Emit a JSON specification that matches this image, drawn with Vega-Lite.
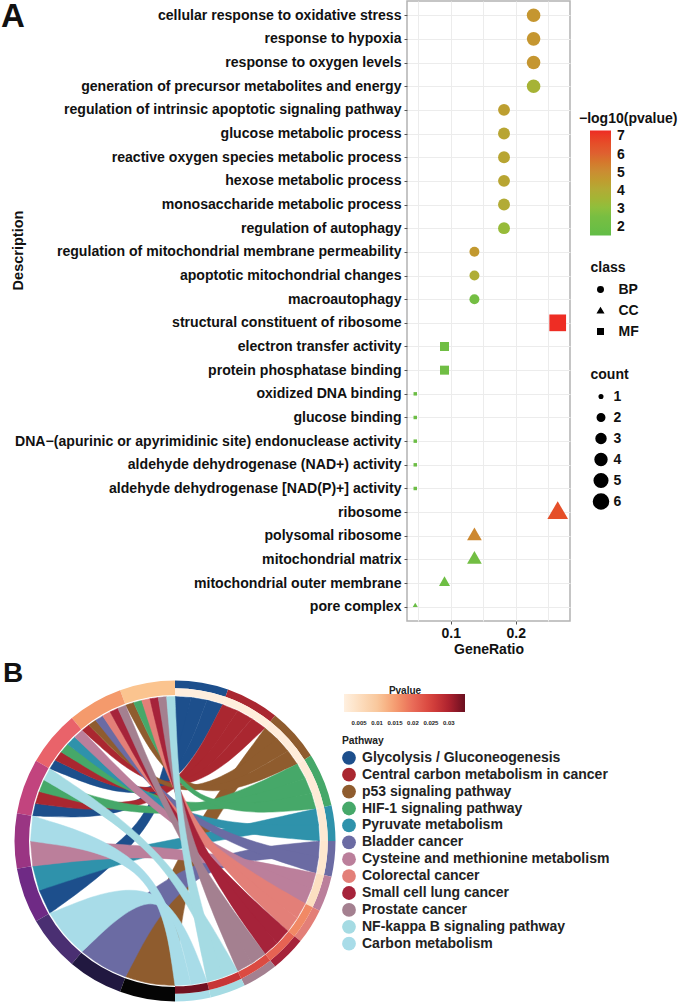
{"$schema":"https://vega.github.io/schema/vega-lite/v6.json","padding":0,"spacing":2,"align":"none","background":"white","config":{"font":"Liberation Sans","axis":{"labelFont":"Liberation Sans","titleFont":"Liberation Sans"},"legend":{"labelFont":"Liberation Sans","titleFont":"Liberation Sans"}},
"vconcat":[
{"width":163,"height":620,"view":{"stroke":"#b3b3b3","strokeWidth":1.5},
"layer":[
{"data":{"name":"rows"},"transform":[{"filter":"datum.class=='BP'"}],"mark":{"type":"point","filled":true,"opacity":1},"encoding":{"shape":{"field":"class","type":"nominal","scale":{"domain":["BP","CC","MF"],"range":["circle","triangle-up","square"]},"legend":{"orient":"none","legendX":183.5,"legendY":260,"title":"class","titleFontSize":14,"titleFontWeight":"bold","titleColor":"#111","titlePadding":8,"labelFontSize":14,"labelFontWeight":"bold","labelColor":"#111","symbolSize":30,"symbolFillColor":"#000","symbolStrokeColor":"#000","symbolOffset":3,"labelOffset":11,"clipHeight":13,"rowPadding":6}},"size":{"field":"count","type":"quantitative","scale":{"domain":[1,6],"range":[13,227]},"legend":{"orient":"none","legendX":183.5,"legendY":367,"title":"count","values":[1,2,3,4,5,6],"format":"d","titleFontSize":14,"titleFontWeight":"bold","titleColor":"#111","titlePadding":6,"labelFontSize":14,"labelFontWeight":"bold","labelColor":"#111","symbolType":"circle","symbolFillColor":"#000","symbolStrokeColor":"#000","symbolOffset":2,"labelOffset":4,"clipHeight":17,"rowPadding":4}},"color":{"field":"logp","type":"quantitative","scale":{"domain":[1.47,2.5,3,4,5,6,7.24],"range":["#62bd47","#78be42","#8fbf3c","#b2ab35","#cb8c32","#df6030","#ee2a24"]},"legend":{"orient":"none","legendX":172,"legendY":110.5,"title":"−log10(pvalue)","titleFontSize":14,"titleFontWeight":"bold","titleColor":"#111","titlePadding":5,"labelFontSize":14,"labelFontWeight":"bold","labelColor":"#111","labelOffset":6,"values":[2,3,4,5,6,7],"gradientLength":105,"gradientThickness":21,"gradientStrokeWidth":0,"tickCount":6,"encoding":{"title":{"dx":{"value":-11}},"labels":{"dy":{"value":1.5}}}}}}},
{"data":{"name":"rows"},"transform":[{"filter":"datum.class=='CC'"}],"mark":{"type":"point","filled":true,"opacity":1,"yOffset":-2},"encoding":{"shape":{"field":"class","type":"nominal","scale":{"domain":["BP","CC","MF"],"range":["circle","triangle-up","square"]}},"size":{"field":"count","type":"quantitative","scale":{"domain":[1,2,3,6],"range":[25,121,216,428]},"legend":null},"color":{"field":"logp","type":"quantitative","scale":{"domain":[1.47,2.5,3,4,5,6,7.24],"range":["#62bd47","#78be42","#8fbf3c","#b2ab35","#cb8c32","#df6030","#ee2a24"]}}}},
{"data":{"name":"rows"},"transform":[{"filter":"datum.class=='MF'"}],"mark":{"type":"point","filled":true,"opacity":1},"encoding":{"shape":{"field":"class","type":"nominal","scale":{"domain":["BP","CC","MF"],"range":["circle","triangle-up","square"]}},"size":{"field":"count","type":"quantitative","scale":{"domain":[1,2,6],"range":[12,81,279]},"legend":null},"color":{"field":"logp","type":"quantitative","scale":{"domain":[1.47,2.5,3,4,5,6,7.24],"range":["#62bd47","#78be42","#8fbf3c","#b2ab35","#cb8c32","#df6030","#ee2a24"]}}}},
{"data":{"values":[{"GeneRatio":-0.5918,"Description":"cellular response to oxidative stress","letter":"A"}]},"mark":{"type":"text","align":"left","baseline":"middle","dy":2,"fontSize":33,"fontWeight":"bold","color":"#111","clip":false},"encoding":{"text":{"field":"letter"}}}
],
"encoding":{"x":{"field":"GeneRatio","type":"quantitative","scale":{"domain":[0.0328,0.2835],"nice":false,"zero":false},"axis":{"title":"GeneRatio","values":[0.05,0.1,0.15,0.2,0.25],"format":".1f","labelExpr":"datum.value==0.1||datum.value==0.2?datum.label:''","labelFontSize":14,"labelFontWeight":"bold","labelColor":"#111","titleFontSize":14,"titleFontWeight":"bold","titleColor":"#111","titlePadding":2,"labelPadding":2,"domain":false,"tickColor":"#555","tickSize":3,"tickOpacity":{"condition":{"test":"datum.value==0.1||datum.value==0.2","value":1},"value":0},"grid":true,"gridColor":"#ececec","gridWidth":1}},"y":{"field":"Description","type":"nominal","scale":{"type":"point","padding":0.6,"domain":["cellular response to oxidative stress","response to hypoxia","response to oxygen levels","generation of precursor metabolites and energy","regulation of intrinsic apoptotic signaling pathway","glucose metabolic process","reactive oxygen species metabolic process","hexose metabolic process","monosaccharide metabolic process","regulation of autophagy","regulation of mitochondrial membrane permeability","apoptotic mitochondrial changes","macroautophagy","structural constituent of ribosome","electron transfer activity","protein phosphatase binding","oxidized DNA binding","glucose binding","DNA−(apurinic or apyrimidinic site) endonuclease activity","aldehyde dehydrogenase (NAD+) activity","aldehyde dehydrogenase [NAD(P)+] activity","ribosome","polysomal ribosome","mitochondrial matrix","mitochondrial outer membrane","pore complex"]},"axis":{"title":"Description","titleX":-382,"titleY":249,"titleFontSize":14.5,"titleFontWeight":"bold","titleColor":"#111","labelFontSize":14.1,"labelFontWeight":"bold","labelColor":"#111","labelLimit":500,"labelPadding":3,"domain":false,"tickColor":"#555","tickSize":3,"grid":true,"gridColor":"#ececec","gridWidth":1}}},
"resolve":{"scale":{"size":"independent"}}
},
{"width":271,"height":345,"view":{"stroke":null},
"layer":[
{"data":{"values":[
{"id":1,"p":"Glycolysis / Gluconeogenesis","x":[0,0,0,16.2,16.2,16.2,-13.6,-125.1,-125.1,-125.1,-135.8,-135.8,-135.8,-17,0,0,0],"y":[144.5,144.5,144.5,143.6,143.6,143.6,8.9,-72.3,-72.3,-72.3,-49.4,-49.4,-49.4,11.9,144.5,144.5,144.5]},
{"id":2,"p":"Glycolysis / Gluconeogenesis","x":[16.2,16.2,16.2,32.2,32.2,32.2,-13.8,-142.3,-142.3,-142.3,-139.6,-139.6,-139.6,-15.4,16.2,16.2,16.2],"y":[143.6,143.6,143.6,140.9,140.9,140.9,20.8,25.1,25.1,25.1,37.4,37.4,37.4,22.6,143.6,143.6,143.6]},
{"id":3,"p":"Glycolysis / Gluconeogenesis","x":[32.2,32.2,32.2,47.7,47.7,47.7,-9.7,-125.1,-125.1,-125.1,-119.8,-119.8,-119.8,-11,32.2,32.2,32.2],"y":[140.9,140.9,140.9,136.4,136.4,136.4,26.1,72.3,72.3,72.3,80.8,80.8,80.8,27.7,140.9,140.9,140.9]},
{"id":4,"p":"Central carbon metabolism in cancer","x":[47.7,47.7,47.7,62.7,62.7,62.7,-9.6,-139.6,-139.6,-139.6,-135.8,-135.8,-135.8,-11,47.7,47.7,47.7],"y":[136.4,136.4,136.4,130.2,130.2,130.2,21,37.4,37.4,37.4,49.4,49.4,49.4,23.2,136.4,136.4,136.4]},
{"id":5,"p":"Central carbon metabolism in cancer","x":[62.7,62.7,62.7,76.9,76.9,76.9,-5.4,-119.8,-119.8,-119.8,-113.9,-113.9,-113.9,-6.4,62.7,62.7,62.7],"y":[130.2,130.2,130.2,122.3,122.3,122.3,25.4,80.8,80.8,80.8,89,89,89,27.4,130.2,130.2,130.2]},
{"id":6,"p":"Central carbon metabolism in cancer","x":[76.9,76.9,76.9,90.1,90.1,90.1,-0.35,-92.9,-92.9,-92.9,-86.3,-86.3,-86.3,-1.2,76.9,76.9,76.9],"y":[122.3,122.3,122.3,113,113,113,28,110.7,110.7,110.7,115.9,115.9,115.9,29.8,122.3,122.3,122.3]},
{"id":7,"p":"p53 signaling pathway","x":[90.1,90.1,90.1,102.2,102.2,102.2,12.8,0,0,0,-25.3,-49.4,-49.4,-49.4,5.1,90.1,90.1,90.1],"y":[113,113,113,102.2,102.2,102.2,-5.3,-144.5,-144.5,-144.5,-143.4,-135.8,-135.8,-135.8,-2.9,113,113,113]},
{"id":8,"p":"p53 signaling pathway","x":[102.2,102.2,102.2,113,113,113,3.3,-86.3,-86.3,-86.3,-79.4,-79.4,-79.4,2.9,102.2,102.2,102.2],"y":[102.2,102.2,102.2,90.1,90.1,90.1,25.8,115.9,115.9,115.9,120.7,120.7,120.7,27.9,102.2,102.2,102.2]},
{"id":9,"p":"p53 signaling pathway","x":[113,113,113,122.3,122.3,122.3,9.1,-49.4,-49.4,-49.4,-41.4,-41.4,-41.4,9,113,113,113],"y":[90.1,90.1,90.1,76.9,76.9,76.9,26.6,135.8,135.8,135.8,138.4,138.4,138.4,28.6,90.1,90.1,90.1]},
{"id":10,"p":"HIF-1 signaling pathway","x":[122.3,122.3,122.3,130.2,130.2,130.2,-0.7,-135.8,-135.8,-135.8,-131,-131,-131,-1.1,122.3,122.3,122.3],"y":[76.9,76.9,76.9,62.7,62.7,62.7,14,49.4,49.4,49.4,61.1,61.1,61.1,17.3,76.9,76.9,76.9]},
{"id":11,"p":"HIF-1 signaling pathway","x":[130.2,130.2,130.2,136.4,136.4,136.4,2.8,-113.9,-113.9,-113.9,-107.4,-107.4,-107.4,2.9,130.2,130.2,130.2],"y":[62.7,62.7,62.7,47.7,47.7,47.7,17.1,89,89,89,96.7,96.7,96.7,19.9,62.7,62.7,62.7]},
{"id":12,"p":"HIF-1 signaling pathway","x":[136.4,136.4,136.4,140.9,140.9,140.9,12.4,-41.4,-41.4,-41.4,-33.3,-33.3,-33.3,12.9,136.4,136.4,136.4],"y":[47.7,47.7,47.7,32.2,32.2,32.2,21.3,138.4,138.4,138.4,140.6,140.6,140.6,23.5,47.7,47.7,47.7]},
{"id":13,"p":"Pyruvate metabolism","x":[140.9,140.9,140.9,143.6,143.6,143.6,1,-135.8,-135.8,-135.8,-142.3,-142.3,-142.3,-0.2,140.9,140.9,140.9],"y":[32.2,32.2,32.2,16.2,16.2,16.2,-4.2,-49.4,-49.4,-49.4,-25.1,-25.1,-25.1,0.9,32.2,32.2,32.2]},
{"id":14,"p":"Pyruvate metabolism","x":[143.6,143.6,143.6,144.5,144.5,144.5,4.6,-107.4,-107.4,-107.4,-100.4,-100.4,-100.4,5.4,143.6,143.6,143.6],"y":[16.2,16.2,16.2,0,0,0,12.1,96.7,96.7,96.7,103.9,103.9,103.9,15,16.2,16.2,16.2]},
{"id":15,"p":"Bladder cancer","x":[144.5,144.5,144.5,143.6,143.6,143.6,11.8,-49.4,-49.4,-49.4,-72.8,-92.9,-92.9,-92.9,6.5,144.5,144.5,144.5],"y":[0,0,0,-16.2,-16.2,-16.2,-19,-135.8,-135.8,-135.8,-126.1,-110.7,-110.7,-110.7,-13.8,0,0,0]},
{"id":16,"p":"Bladder cancer","x":[143.6,143.6,143.6,140.9,140.9,140.9,7.7,-79.4,-79.4,-79.4,-72.3,-72.3,-72.3,8.9,143.6,143.6,143.6],"y":[-16.2,-16.2,-16.2,-32.2,-32.2,-32.2,11.1,120.7,120.7,120.7,125.1,125.1,125.1,13.6,-16.2,-16.2,-16.2]},
{"id":17,"p":"Cysteine and methionine metabolism","x":[140.9,140.9,140.9,136.4,136.4,136.4,-0.7,-142.3,-142.3,-142.3,-144.5,-144.5,-144.5,-0.5,140.9,140.9,140.9],"y":[-32.2,-32.2,-32.2,-47.7,-47.7,-47.7,-9.1,-25.1,-25.1,-25.1,0,0,0,-4,-32.2,-32.2,-32.2]},
{"id":18,"p":"Cysteine and methionine metabolism","x":[136.4,136.4,136.4,130.2,130.2,130.2,3.7,-100.4,-100.4,-100.4,-92.9,-92.9,-92.9,5.4,136.4,136.4,136.4],"y":[-47.7,-47.7,-47.7,-62.7,-62.7,-62.7,5.2,103.9,103.9,103.9,110.7,110.7,110.7,7.9,-47.7,-47.7,-47.7]},
{"id":19,"p":"Colorectal cancer","x":[130.2,130.2,130.2,122.3,122.3,122.3,6.3,-72.3,-72.3,-72.3,-64.9,-64.9,-64.9,8.2,130.2,130.2,130.2],"y":[-62.7,-62.7,-62.7,-76.9,-76.9,-76.9,6,125.1,125.1,125.1,129.1,129.1,129.1,8.3,-62.7,-62.7,-62.7]},
{"id":20,"p":"Colorectal cancer","x":[122.3,122.3,122.3,113,113,113,10,-33.3,-33.3,-33.3,-25.1,-25.1,-25.1,12.2,122.3,122.3,122.3],"y":[-76.9,-76.9,-76.9,-90.1,-90.1,-90.1,6.3,140.6,140.6,140.6,142.3,142.3,142.3,8.2,-76.9,-76.9,-76.9]},
{"id":21,"p":"Small cell lung cancer","x":[113,113,113,102.2,102.2,102.2,4.7,-64.9,-64.9,-64.9,-57.2,-57.2,-57.2,7,113,113,113],"y":[-90.1,-90.1,-90.1,-102.2,-102.2,-102.2,3.4,129.1,129.1,129.1,132.7,132.7,132.7,5.3,-90.1,-90.1,-90.1]},
{"id":22,"p":"Small cell lung cancer","x":[102.2,102.2,102.2,90.1,90.1,90.1,8.1,-25.1,-25.1,-25.1,-16.8,-16.8,-16.8,10.7,102.2,102.2,102.2],"y":[-102.2,-102.2,-102.2,-113,-113,-113,3.7,142.3,142.3,142.3,143.5,143.5,143.5,5.2,-102.2,-102.2,-102.2]},
{"id":23,"p":"Prostate cancer","x":[90.1,90.1,90.1,76.9,76.9,76.9,2.5,-57.2,-57.2,-57.2,-49.4,-49.4,-49.4,5.1,90.1,90.1,90.1],"y":[-113,-113,-113,-122.3,-122.3,-122.3,1.3,132.7,132.7,132.7,135.8,135.8,135.8,2.9,-113,-113,-113]},
{"id":24,"p":"Prostate cancer","x":[76.9,76.9,76.9,62.7,62.7,62.7,5.7,-16.8,-16.8,-16.8,-8.4,-8.4,-8.4,8.6,76.9,76.9,76.9],"y":[-122.3,-122.3,-122.3,-130.2,-130.2,-130.2,1.7,143.5,143.5,143.5,144.3,144.3,144.3,2.8,-122.3,-122.3,-122.3]},
{"id":25,"p":"NF-kappa B signaling pathway","x":[62.7,62.7,62.7,47.7,47.7,47.7,-10.4,-131,-131,-131,-125.1,-125.1,-125.1,-7.8,62.7,62.7,62.7],"y":[-130.2,-130.2,-130.2,-136.4,-136.4,-136.4,-9.4,61.1,61.1,61.1,72.3,72.3,72.3,-7.2,-130.2,-130.2,-130.2]},
{"id":26,"p":"NF-kappa B signaling pathway","x":[47.7,47.7,47.7,32.2,32.2,32.2,3,-8.4,-8.4,-8.4,0,0,0,6,47.7,47.7,47.7],"y":[-136.4,-136.4,-136.4,-140.9,-140.9,-140.9,0.4,144.3,144.3,144.3,144.5,144.5,144.5,1,-136.4,-136.4,-136.4]},
{"id":27,"p":"Carbon metabolism","x":[32.2,32.2,32.2,16.2,16.2,16.2,-9.6,-92.9,-92.9,-92.9,-111.5,-125.1,-125.1,-125.1,-11.6,32.2,32.2,32.2],"y":[-140.9,-140.9,-140.9,-143.6,-143.6,-143.6,-31.8,-110.7,-110.7,-110.7,-93.6,-72.3,-72.3,-72.3,-26.7,-140.9,-140.9,-140.9]},
{"id":28,"p":"Carbon metabolism","x":[16.2,16.2,16.2,0,0,0,-18.1,-144.5,-144.5,-144.5,-142.3,-142.3,-142.3,-15.8,16.2,16.2,16.2],"y":[-143.6,-143.6,-143.6,-144.5,-144.5,-144.5,-18.1,0,0,0,25.1,25.1,25.1,-14.8,-143.6,-143.6,-143.6]}
]},
"transform":[{"flatten":["x","y"]},{"window":[{"op":"row_number","as":"o"}],"groupby":["id"]}],
"mark":{"type":"line","interpolate":"basis","strokeWidth":0.5,"clip":false},
"encoding":{"x":{"field":"x","type":"quantitative","scale":{"domain":[232,503],"nice":false,"zero":false},"axis":null},"y":{"field":"y","type":"quantitative","scale":{"domain":[-163,182],"nice":false,"zero":false},"axis":null},"order":{"field":"o","type":"quantitative"},"detail":{"field":"id","type":"nominal"},
"stroke":{"field":"p","type":"nominal","scale":{"domain":["Glycolysis / Gluconeogenesis","Central carbon metabolism in cancer","p53 signaling pathway","HIF-1 signaling pathway","Pyruvate metabolism","Bladder cancer","Cysteine and methionine metabolism","Colorectal cancer","Small cell lung cancer","Prostate cancer","NF-kappa B signaling pathway","Carbon metabolism"],"range":["#1d4f8c","#aa2730","#8f5c2e","#46a869","#2f92ab","#6b6ba3","#bb7f9b","#e37f78","#a6233a","#a48090","#a5dbe3","#a8dce8"]},"legend":null},
"fill":{"field":"p","type":"nominal","scale":{"domain":["Glycolysis / Gluconeogenesis","Central carbon metabolism in cancer","p53 signaling pathway","HIF-1 signaling pathway","Pyruvate metabolism","Bladder cancer","Cysteine and methionine metabolism","Colorectal cancer","Small cell lung cancer","Prostate cancer","NF-kappa B signaling pathway","Carbon metabolism"],"range":["#1d4f8c","#aa2730","#8f5c2e","#46a869","#2f92ab","#6b6ba3","#bb7f9b","#e37f78","#a6233a","#a48090","#a5dbe3","#a8dce8"]},"legend":{"orient":"none","legendX":-65,"legendY":77,"title":"Pathway","titleFontSize":10.3,"titleFontWeight":"bold","titleColor":"#222","titlePadding":4,"labelFontSize":14,"labelFontWeight":"bold","labelColor":"#222","symbolType":"circle","symbolSize":190,"symbolStrokeWidth":0,"symbolOpacity":1,"labelOffset":6,"clipHeight":15,"rowPadding":1.9,"labelLimit":320}}}},
{"data":{"values":[{"g":"g1","a0":340,"a1":360},{"g":"g2","a0":320,"a1":340},{"g":"g3","a0":300,"a1":320},{"g":"g4","a0":280,"a1":300},{"g":"g5","a0":260,"a1":280},{"g":"g6","a0":240,"a1":260},{"g":"g7","a0":220,"a1":240},{"g":"g8","a0":200,"a1":220},{"g":"g9","a0":180,"a1":200}]},
"mark":{"type":"arc","innerRadius":146,"outerRadius":160.5},
"encoding":{"x":{"datum":0,"type":"quantitative"},"y":{"datum":0,"type":"quantitative"},"theta":{"field":"a0","type":"quantitative","stack":null,"scale":{"domain":[0,360],"range":[0,6.28319]}},"theta2":{"field":"a1"},"fill":{"field":"g","type":"nominal","scale":{"domain":["g1","g2","g3","g4","g5","g6","g7","g8","g9"],"range":["#fbc48f","#f49a6c","#e9636a","#c2447e","#9a3583","#6f2a85","#4a2f72","#211840","#050505"]},"legend":null}}},
{"data":{"name":"paths"},
"mark":{"type":"arc","innerRadius":152.8,"outerRadius":160.5},
"encoding":{"x":{"datum":0,"type":"quantitative"},"y":{"datum":0,"type":"quantitative"},"theta":{"field":"a0","type":"quantitative","stack":null,"scale":{"domain":[0,360],"range":[0,6.28319]}},"theta2":{"field":"a1"},"fill":{"field":"p","type":"nominal","scale":{"domain":["Glycolysis / Gluconeogenesis","Central carbon metabolism in cancer","p53 signaling pathway","HIF-1 signaling pathway","Pyruvate metabolism","Bladder cancer","Cysteine and methionine metabolism","Colorectal cancer","Small cell lung cancer","Prostate cancer","NF-kappa B signaling pathway","Carbon metabolism"],"range":["#1d4f8c","#aa2730","#8f5c2e","#46a869","#2f92ab","#6b6ba3","#bb7f9b","#e37f78","#a6233a","#a48090","#a5dbe3","#a8dce8"]},"legend":null}}},
{"data":{"name":"paths"},
"mark":{"type":"arc","innerRadius":145.3,"outerRadius":152.8},
"encoding":{"x":{"datum":0,"type":"quantitative"},"y":{"datum":0,"type":"quantitative"},"theta":{"field":"a0","type":"quantitative","stack":null,"scale":{"domain":[0,360],"range":[0,6.28319]}},"theta2":{"field":"a1"},"fill":{"field":"pv","type":"quantitative","scale":{"domain":[0.0008,0.0345],"range":["#fff0e0","#fcdcbc","#f9c69a","#f59a6f","#e96a58","#d8433e","#b2242f","#6a0f1f"],"nice":false,"zero":false},"legend":{"orient":"none","direction":"horizontal","legendX":-63,"legendY":27,"title":"Pvalue","titleFontSize":10,"titleFontWeight":"bold","titleColor":"#222","titleAnchor":"middle","titlePadding":-2,"gradientLength":121,"gradientThickness":18,"gradientStrokeWidth":0,"values":[0.005,0.01,0.015,0.02,0.025,0.03],"format":".3~f","labelFontSize":6,"labelFontWeight":"bold","labelColor":"#222","labelOffset":8}}}},
{"data":{"values":[{"x":-175,"y":159,"letter":"B"}]},"mark":{"type":"text","align":"left","baseline":"alphabetic","dx":3,"fontSize":28,"fontWeight":"bold","color":"#111"},"encoding":{"x":{"field":"x","type":"quantitative"},"y":{"field":"y","type":"quantitative"},"text":{"field":"letter"}}}
],
"resolve":{"scale":{"fill":"independent"},"legend":{"fill":"independent"}}
}
],
"datasets":{
"rows":[
{"Description":"cellular response to oxidative stress","class":"BP","count":5,"GeneRatio":0.2275,"logp":4.7},
{"Description":"response to hypoxia","class":"BP","count":5,"GeneRatio":0.2275,"logp":4.7},
{"Description":"response to oxygen levels","class":"BP","count":5,"GeneRatio":0.2275,"logp":4.7},
{"Description":"generation of precursor metabolites and energy","class":"BP","count":5,"GeneRatio":0.2275,"logp":3.6},
{"Description":"regulation of intrinsic apoptotic signaling pathway","class":"BP","count":4,"GeneRatio":0.182,"logp":4.4},
{"Description":"glucose metabolic process","class":"BP","count":4,"GeneRatio":0.182,"logp":4.2},
{"Description":"reactive oxygen species metabolic process","class":"BP","count":4,"GeneRatio":0.182,"logp":4.2},
{"Description":"hexose metabolic process","class":"BP","count":4,"GeneRatio":0.182,"logp":4.2},
{"Description":"monosaccharide metabolic process","class":"BP","count":4,"GeneRatio":0.182,"logp":4.0},
{"Description":"regulation of autophagy","class":"BP","count":4,"GeneRatio":0.182,"logp":3.2},
{"Description":"regulation of mitochondrial membrane permeability","class":"BP","count":3,"GeneRatio":0.1365,"logp":4.6},
{"Description":"apoptotic mitochondrial changes","class":"BP","count":3,"GeneRatio":0.1365,"logp":3.9},
{"Description":"macroautophagy","class":"BP","count":3,"GeneRatio":0.1365,"logp":2.3},
{"Description":"structural constituent of ribosome","class":"MF","count":6,"GeneRatio":0.2646,"logp":7.2},
{"Description":"electron transfer activity","class":"MF","count":2,"GeneRatio":0.0905,"logp":2.1},
{"Description":"protein phosphatase binding","class":"MF","count":2,"GeneRatio":0.0905,"logp":2.1},
{"Description":"oxidized DNA binding","class":"MF","count":1,"GeneRatio":0.0455,"logp":1.9},
{"Description":"glucose binding","class":"MF","count":1,"GeneRatio":0.0455,"logp":1.9},
{"Description":"DNA−(apurinic or apyrimidinic site) endonuclease activity","class":"MF","count":1,"GeneRatio":0.0455,"logp":1.9},
{"Description":"aldehyde dehydrogenase (NAD+) activity","class":"MF","count":1,"GeneRatio":0.0455,"logp":1.9},
{"Description":"aldehyde dehydrogenase [NAD(P)+] activity","class":"MF","count":1,"GeneRatio":0.0455,"logp":1.9},
{"Description":"ribosome","class":"CC","count":6,"GeneRatio":0.2646,"logp":6.5},
{"Description":"polysomal ribosome","class":"CC","count":3,"GeneRatio":0.1365,"logp":5.1},
{"Description":"mitochondrial matrix","class":"CC","count":3,"GeneRatio":0.1365,"logp":2.2},
{"Description":"mitochondrial outer membrane","class":"CC","count":2,"GeneRatio":0.0905,"logp":2.0},
{"Description":"pore complex","class":"CC","count":1,"GeneRatio":0.0455,"logp":1.8}
],
"paths":[
{"p":"Glycolysis / Gluconeogenesis","a0":0,"a1":19.29,"pv":0.0012},
{"p":"Central carbon metabolism in cancer","a0":19.29,"a1":38.57,"pv":0.0013},
{"p":"p53 signaling pathway","a0":38.57,"a1":57.86,"pv":0.0015},
{"p":"HIF-1 signaling pathway","a0":57.86,"a1":77.14,"pv":0.002},
{"p":"Pyruvate metabolism","a0":77.14,"a1":90,"pv":0.0025},
{"p":"Bladder cancer","a0":90,"a1":102.86,"pv":0.003},
{"p":"Cysteine and methionine metabolism","a0":102.86,"a1":115.71,"pv":0.005},
{"p":"Colorectal cancer","a0":115.71,"a1":128.57,"pv":0.017},
{"p":"Small cell lung cancer","a0":128.57,"a1":141.43,"pv":0.021},
{"p":"Prostate cancer","a0":141.43,"a1":154.29,"pv":0.024},
{"p":"NF-kappa B signaling pathway","a0":154.29,"a1":167.14,"pv":0.027},
{"p":"Carbon metabolism","a0":167.14,"a1":180,"pv":0.034}
]
}
}
